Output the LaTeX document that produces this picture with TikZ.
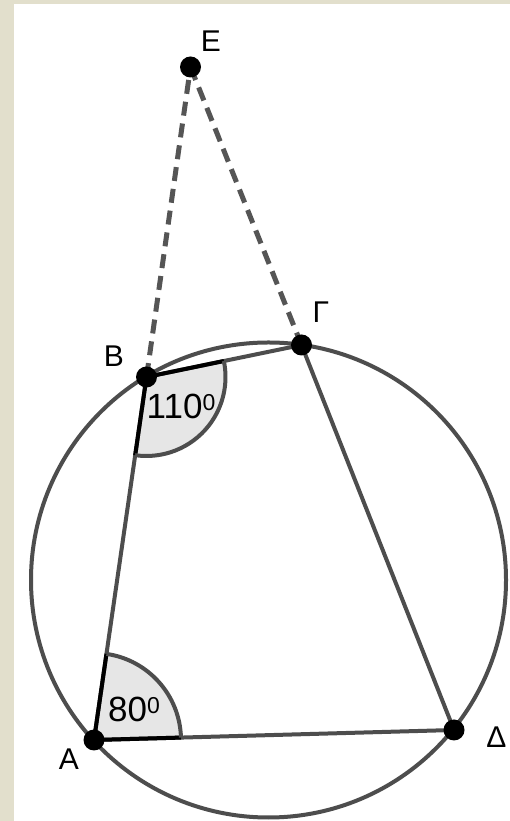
\documentclass[tikz,border=0pt]{standalone}
\usepackage{fontspec}
\setmainfont{Liberation Sans}
\definecolor{lin}{RGB}{77,77,77}
\definecolor{dashc}{RGB}{85,85,85}
\definecolor{bgc}{RGB}{226,223,204}
\definecolor{sect}{RGB}{230,230,230}
\begin{document}
\begin{tikzpicture}[x=1pt,y=1pt,
  side/.style={draw=lin,line width=4pt},
  dashside/.style={draw=dashc,line width=5pt,dash pattern=on 14pt off 8pt},
  dot/.style={circle,fill=black,minimum size=21pt,inner sep=0pt},
  lab/.style={inner sep=0pt,anchor=base,font=\fontsize{30}{30}\selectfont},
  anglab/.style={inner sep=0pt,anchor=base,font=\fontsize{35}{35}\selectfont},
  sectedge/.style={draw=black,line width=4pt},
  sectarc/.style={draw=lin,line width=4pt}]
\useasboundingbox (0,0) rectangle (510,821);
\fill[bgc] (0,0) rectangle (510,821);
\fill[white] (14,0) rectangle (510,817);
% points
\coordinate (A) at (94,81);
\coordinate (B) at (146.5,444);
\coordinate (G) at (301.5,476);
\coordinate (D) at (454,91);
\coordinate (E) at (190.5,754);
\coordinate (O) at (268.5,241);
% circle
\draw[side] (O) circle[radius=237.5];
% sectors fill
\fill[sect] (B) -- ([shift={(-98.23:79)}]B) arc[start angle=-98.23,end angle=11.67,radius=79] -- cycle;
\fill[sect] (A) -- ([shift={(1.59:87)}]A) arc[start angle=1.59,end angle=81.77,radius=87] -- cycle;
% sides
\draw[side] (B) -- (G);
\draw[side] (G) -- (D);
\draw[side] (D) -- (A);
\draw[side] (A) -- (B);
% dashed
\draw[dashside] (B) -- (E);
\draw[dashside] (E) -- (G);
% sector outlines
\draw[sectedge] ([shift={(11.67:79)}]B) -- (B) -- ([shift={(-98.23:79)}]B);
\draw[sectarc] ([shift={(-98.23:79)}]B) arc[start angle=-98.23,end angle=11.67,radius=79];
\draw[sectedge] ([shift={(81.77:87)}]A) -- (A) -- ([shift={(1.59:87)}]A);
\draw[sectarc] ([shift={(1.59:87)}]A) arc[start angle=1.59,end angle=81.77,radius=87];
% dots
\node[dot] (dA) at (A) {};
\node[dot] (dB) at (B) {};
\node[dot] (dG) at (G) {};
\node[dot] (dD) at (D) {};
\node[dot] (dE) at (E) {};
% labels
\node[lab] (lE) at (211,769) {E};
\node[lab] (lB) at (114,454) {B};
\node[lab] (lG) at (321,498) {Γ};
\node[lab] (lA) at (69,51) {A};
\node[lab] (lD) at (496.5,73) {Δ};
\node[anglab] (aB) at (181,402) {110\raisebox{8pt}{\fontsize{23}{23}\selectfont 0}};
\node[anglab] (aA) at (134,99) {80\raisebox{8pt}{\fontsize{23}{23}\selectfont 0}};
\end{tikzpicture}
\end{document}
